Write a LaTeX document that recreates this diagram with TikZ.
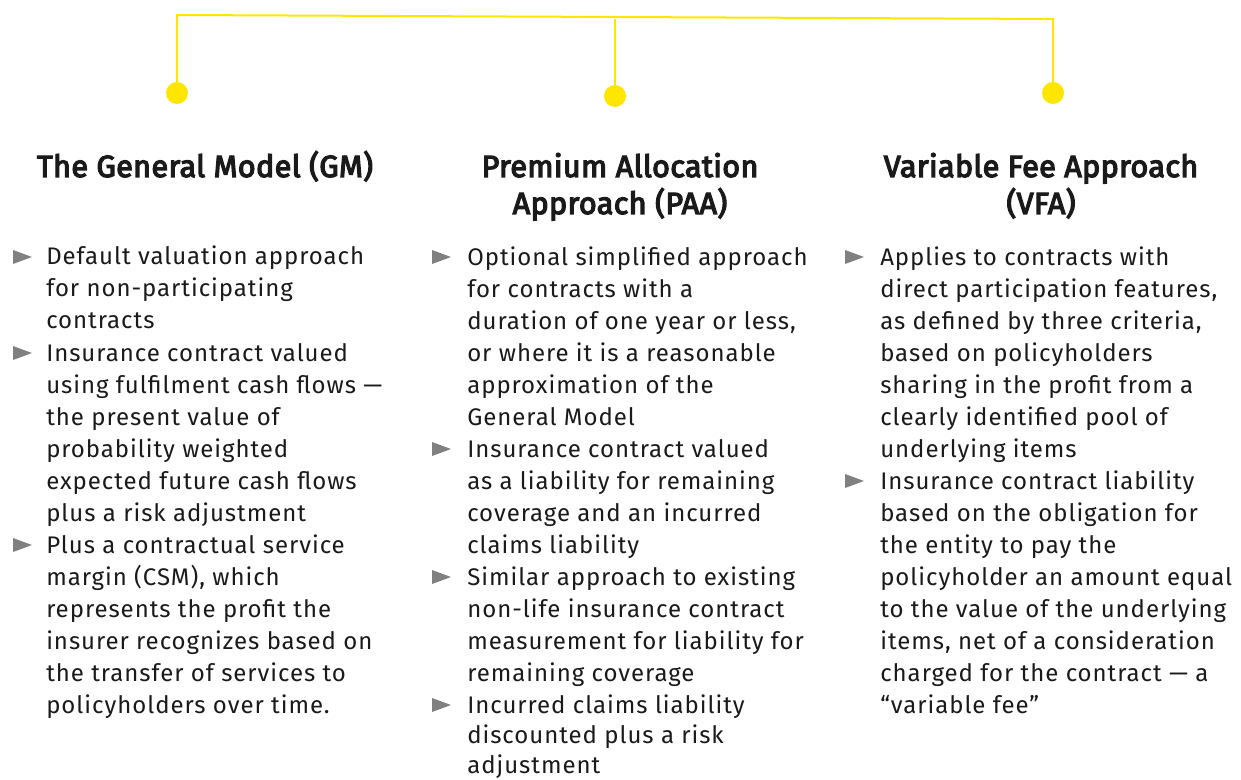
\documentclass[tikz,border=0pt]{standalone}
\usepackage{fontspec}
\setmainfont{Fira Sans}
\newfontfamily\bodyfont{Fira Sans}[LetterSpace=4]
\newfontfamily\headfont{Fira Sans}[FakeBold=4,LetterSpace=1]
\definecolor{eyyellow}{HTML}{FFE600}
\definecolor{bulgray}{HTML}{808080}
\definecolor{txt}{HTML}{1A1A1A}
\newcommand{\bul}[2]{\fill[bulgray] (#1,#2-1) -- (#1+19,#2-8) -- (#1,#2-15) -- cycle;}
\tikzset{
	dot/.style={circle,fill=eyyellow,inner sep=0pt,minimum size=16.5pt},
	head/.style={font=\headfont\fontsize{23}{27.75}\selectfont,align=center,anchor=base,inner sep=0pt,text=txt},
	body/.style={font=\bodyfont\fontsize{18}{24}\selectfont,align=left,anchor=base west,inner sep=0pt,text=txt}
}
\begin{document}
\begin{tikzpicture}[x=0.75pt,y=-0.75pt]
	\useasboundingbox (0,0) rectangle (1241,780);
	\node[dot] (gmdot) at (177,93) {};
	\node[dot] (paadot) at (615,96) {};
	\node[dot] (vfadot) at (1053,93) {};
	\coordinate (gmtop) at (177,15);
	\coordinate (paatop) at (615,19);
	\coordinate (vfatop) at (1053,19);
	\draw[eyyellow,line width=1.5pt] (gmdot.center) -- (gmtop) -- (vfatop) -- (vfadot.center);
	\draw[eyyellow,line width=1.5pt] (paadot.center) -- (paatop);

	% text nodes sit on the baseline of their last line
	\node[head] (gmhead) at (205,177) {The General Model (GM)};
	\node[head] (paahead) at (620,214) {Premium Allocation\\Approach (PAA)};
	\node[head] (vfahead) at (1041,214) {Variable Fee Approach\\(VFA)};

	\node[body] (gm1) at (46,329) {Default valuation approach\\for non-participating\\contracts};
	\node[body] (gm2) at (46,521) {Insurance contract valued\\using fulfilment cash flows —\\the present value of\\probability weighted\\expected future cash flows\\plus a risk adjustment};
	\node[body] (gm3) at (46,713) {Plus a contractual service\\margin (CSM), which\\represents the profit the\\insurer recognizes based on\\the transfer of services to\\policyholders over time.};
	\bul{13}{265} \bul{13}{361} \bul{13}{553}

	\node[body] (paa1) at (467,425) {Optional simplified approach\\for contracts with a\\duration of one year or less,\\or where it is a reasonable\\approximation of the\\General Model};
	\node[body] (paa2) at (467,553) {Insurance contract valued\\as a liability for remaining\\coverage and an incurred\\claims liability};
	\node[body] (paa3) at (467,681) {Similar approach to existing\\non-life insurance contract\\measurement for liability for\\remaining coverage};
	\node[body,font=\bodyfont\fontsize{18}{22.5}\selectfont] (paa4) at (467,773) {Incurred claims liability\\discounted plus a risk\\adjustment};
	\bul{432}{265} \bul{432}{457} \bul{432}{585} \bul{432}{713}

	\node[body] (vfa1) at (880,457) {Applies to contracts with\\direct participation features,\\as defined by three criteria,\\based on policyholders\\sharing in the profit from a\\clearly identified pool of\\underlying items};
	\node[body] (vfa2) at (880,713) {Insurance contract liability\\based on the obligation for\\the entity to pay the\\policyholder an amount equal\\to the value of the underlying\\items, net of a consideration\\charged for the contract — a\\“variable fee”};
	\bul{845}{265} \bul{845}{489}
\end{tikzpicture}
\end{document}
